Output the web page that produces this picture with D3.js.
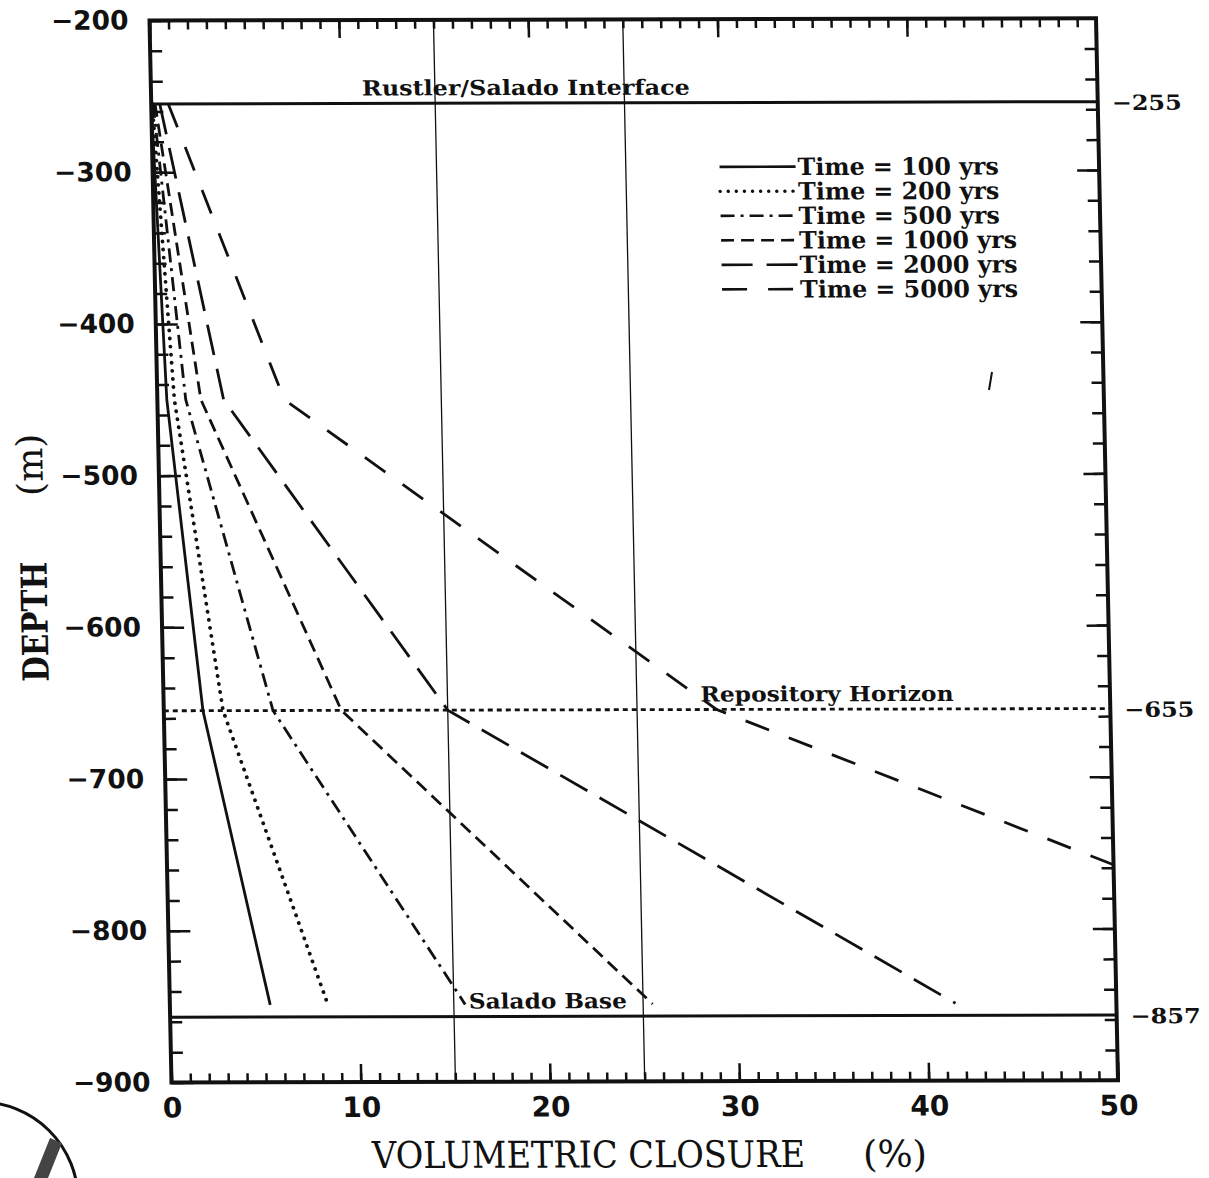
<!DOCTYPE html>
<html>
<head>
<meta charset="utf-8">
<script src="https://d3js.org/d3.v7.min.js"></script>
<style>
  body { margin: 0; background: #fff; }
  svg { display: block; }
</style>
</head>
<body>
<svg id="chart"></svg>
<script>
// values (depth in m, closure in %)
const seriesLabels = ["Time = 100 yrs", "Time = 200 yrs", "Time = 500 yrs",
  "Time = 1000 yrs", "Time = 2000 yrs", "Time = 5000 yrs"];
const depthKnots = [-255, -450, -655, -849];
const closure100 = [0, 0.5, 2.07, 5.3];
const closure200 = [0.05, 0.9, 3.13, 8.35];
const closure500 = [0.1, 1.5, 5.77, 15.6];
const closure1000 = [0.2, 2.3, 9.38, 25.5];
const closure2000 = [0.45, 3.5, 15.0, 41.5];
const depth5000 = [-255, -450, -655, -758];
const closure5000 = [0.9, 6.7, 29.2, 50];

const xTicks = [0, 10, 20, 30, 40, 50];
const yTicks = [-200, -300, -400, -500, -600, -700, -800, -900];
const horizons = [-255, -655, -857];
const horizonNames = ["Rustler/Salado Interface", "Repository Horizon", "Salado Base"];
const gridLines = [15, 25];

var width = 946.5,
  height = 1062;
var ink = "#111";

var svg = d3.select("#chart").attr("width", 1209).attr("height", 1178);
svg.append("rect").attr("width", 1209).attr("height", 1178).attr("fill", "#fff");

// the scan is a little sheared, so the plot lives in a skewed group
var g = svg
  .append("g")
  .attr("transform", "matrix(1,-0.0024,0.0207,1,149.5,20.5)");

var x = d3.scaleLinear().domain([0, 50]).range([0, width]);
var y = d3.scaleLinear().domain([-200, -900]).range([0, height]);

var minorX = d3.range(0, 51);
var minorY = d3.range(-200, -901, -20);

// ticks all point inward
g.append("g")
  .attr("transform", "translate(0," + height + ")")
  .call(d3.axisBottom(x).tickValues(minorX).tickSize(-9).tickFormat(""));
var xl = g
  .append("g")
  .attr("transform", "translate(0," + height + ")")
  .call(d3.axisBottom(x).tickValues(xTicks).tickSize(-18).tickPadding(15).tickFormat(d3.format("d")));
g.append("g").call(d3.axisTop(x).tickValues(minorX).tickSize(-9).tickFormat(""));
g.append("g").call(d3.axisTop(x).tickValues(xTicks).tickSize(-18).tickFormat(""));
g.append("g").call(d3.axisLeft(y).tickValues(minorY).tickSize(-12).tickFormat(""));
var yl = g
  .append("g")
  .call(d3.axisLeft(y).tickValues(yTicks).tickSize(-22).tickPadding(21).tickFormat(d3.format("d")));
g.append("g")
  .attr("transform", "translate(" + width + ",0)")
  .call(d3.axisRight(y).tickValues(minorY).tickSize(-12).tickFormat(""));
g.append("g")
  .attr("transform", "translate(" + width + ",0)")
  .call(d3.axisRight(y).tickValues(yTicks).tickSize(-22).tickFormat(""));

g.selectAll(".domain").remove();
g.selectAll(".tick line").attr("stroke", ink).attr("stroke-width", 2.5);
xl.selectAll("text")
  .attr("font-family", "DejaVu Sans")
  .attr("font-weight", "bold")
  .attr("font-size", 28)
  .attr("fill", ink);
yl.selectAll("text")
  .attr("font-family", "DejaVu Sans")
  .attr("font-weight", "bold")
  .attr("font-size", 26.5)
  .attr("fill", ink);

// frame
g.append("rect")
  .attr("width", width)
  .attr("height", height)
  .attr("fill", "none")
  .attr("stroke", ink)
  .attr("stroke-width", 4);

// thin verticals at 15 and 25 %
g.selectAll(".vline")
  .data(gridLines)
  .join("line")
  .attr("x1", (d) => x(d))
  .attr("x2", (d) => x(d))
  .attr("y1", 0)
  .attr("y2", height)
  .attr("stroke", ink)
  .attr("stroke-width", 1.3);

// stratigraphic horizons
g.selectAll(".hline")
  .data(horizons)
  .join("line")
  .attr("x1", 0)
  .attr("x2", width)
  .attr("y1", (d) => y(d))
  .attr("y2", (d) => y(d))
  .attr("stroke", ink)
  .attr("stroke-width", (d, i) => (i == 1 ? 2.8 : 3))
  .attr("stroke-dasharray", (d, i) => (i == 1 ? "5,4" : null));

var labelStart = [211, 537, 299];
var labelWidth = [328, 253, 158];
g.selectAll(".hname")
  .data(horizonNames)
  .join("text")
  .attr("x", (d, i) => labelStart[i])
  .attr("y", (d, i) => y(horizons[i]) - 8)
  .attr("textLength", (d, i) => labelWidth[i])
  .attr("lengthAdjust", "spacingAndGlyphs")
  .attr("font-family", "DejaVu Serif")
  .attr("font-weight", "bold")
  .attr("font-size", 21)
  .attr("fill", ink)
  .text((d) => d);

g.selectAll(".hval")
  .data(horizons)
  .join("text")
  .attr("x", width + 14)
  .attr("y", (d) => y(d) + 1)
  .attr("dy", "0.35em")
  .attr("textLength", 70)
  .attr("lengthAdjust", "spacingAndGlyphs")
  .attr("font-family", "DejaVu Serif")
  .attr("font-weight", "bold")
  .attr("font-size", 21)
  .attr("fill", ink)
  .text((d) => d3.format("d")(d));

// closure curves
var series = [
  d3.zip(closure100, depthKnots),
  d3.zip(closure200, depthKnots),
  d3.zip(closure500, depthKnots),
  d3.zip(closure1000, depthKnots),
  d3.zip(closure2000, depthKnots),
  d3.zip(closure5000, depth5000),
];
var dashes = [null, "0.1,8", "14,6,3,6", "13,7", "31,14", "25,21"];

var line = d3
  .line()
  .x((d) => x(d[0]))
  .y((d) => y(d[1]));

g.selectAll(".curve")
  .data(series)
  .join("path")
  .attr("d", line)
  .attr("fill", "none")
  .attr("stroke", ink)
  .attr("stroke-width", (d, i) => (i == 1 ? 3.8 : 2.8))
  .attr("stroke-linecap", (d, i) => (i == 1 ? "round" : "butt"))
  .attr("stroke-dasharray", (d, i) => dashes[i]);

// legend
var legend = g
  .selectAll(".leg")
  .data(seriesLabels)
  .join("g")
  .attr("transform", (d, i) => "translate(0," + (147.7 + i * 24.5) + ")");
legend
  .append("line")
  .attr("x1", 567)
  .attr("x2", 643)
  .attr("stroke", ink)
  .attr("stroke-width", (d, i) => (i == 1 ? 3.4 : 2.6))
  .attr("stroke-linecap", (d, i) => (i == 1 ? "round" : "butt"))
  .attr("stroke-dasharray", (d, i) => dashes[i]);
legend
  .append("text")
  .attr("x", 645)
  .attr("dy", "0.35em")
  .attr("font-family", "DejaVu Serif")
  .attr("font-weight", "bold")
  .attr("font-size", 23.8)
  .attr("fill", ink)
  .text((d) => d);

// axis titles
g.append("text")
  .attr("x", 199)
  .attr("y", height + 86)
  .attr("textLength", 433)
  .attr("lengthAdjust", "spacingAndGlyphs")
  .attr("font-family", "DejaVu Serif")
  .attr("font-size", 37)
  .attr("fill", ink)
  .text("VOLUMETRIC CLOSURE");
g.append("text")
  .attr("x", 722)
  .attr("y", height + 86)
  .attr("text-anchor", "middle")
  .attr("font-family", "DejaVu Serif")
  .attr("font-size", 37)
  .attr("fill", ink)
  .text("(%)");

g.append("text")
  .attr("transform", "translate(-127,601) rotate(-90)")
  .attr("text-anchor", "middle")
  .attr("dy", "0.35em")
  .attr("textLength", 120)
  .attr("lengthAdjust", "spacingAndGlyphs")
  .attr("font-family", "DejaVu Serif")
  .attr("font-weight", "bold")
  .attr("font-size", 36)
  .attr("fill", ink)
  .text("DEPTH");
g.append("text")
  .attr("transform", "translate(-129,444) rotate(-90)")
  .attr("text-anchor", "middle")
  .attr("dy", "0.35em")
  .attr("font-family", "DejaVu Serif")
  .attr("font-size", 36)
  .attr("fill", ink)
  .text("(m)");

// bits of the scan outside the plot: stamp in the corner, stray pen mark
svg.append("circle")
  .attr("cx", -20)
  .attr("cy", 1200)
  .attr("r", 98)
  .attr("fill", "none")
  .attr("stroke", ink)
  .attr("stroke-width", 3);
svg.append("path")
  .attr("d", "M34,1178 L50,1138 L62,1143 L48,1178 Z")
  .attr("fill", "#444");
svg.append("line")
  .attr("x1", 992)
  .attr("y1", 372)
  .attr("x2", 989)
  .attr("y2", 390)
  .attr("stroke", ink)
  .attr("stroke-width", 2);
</script>
</body>
</html>
